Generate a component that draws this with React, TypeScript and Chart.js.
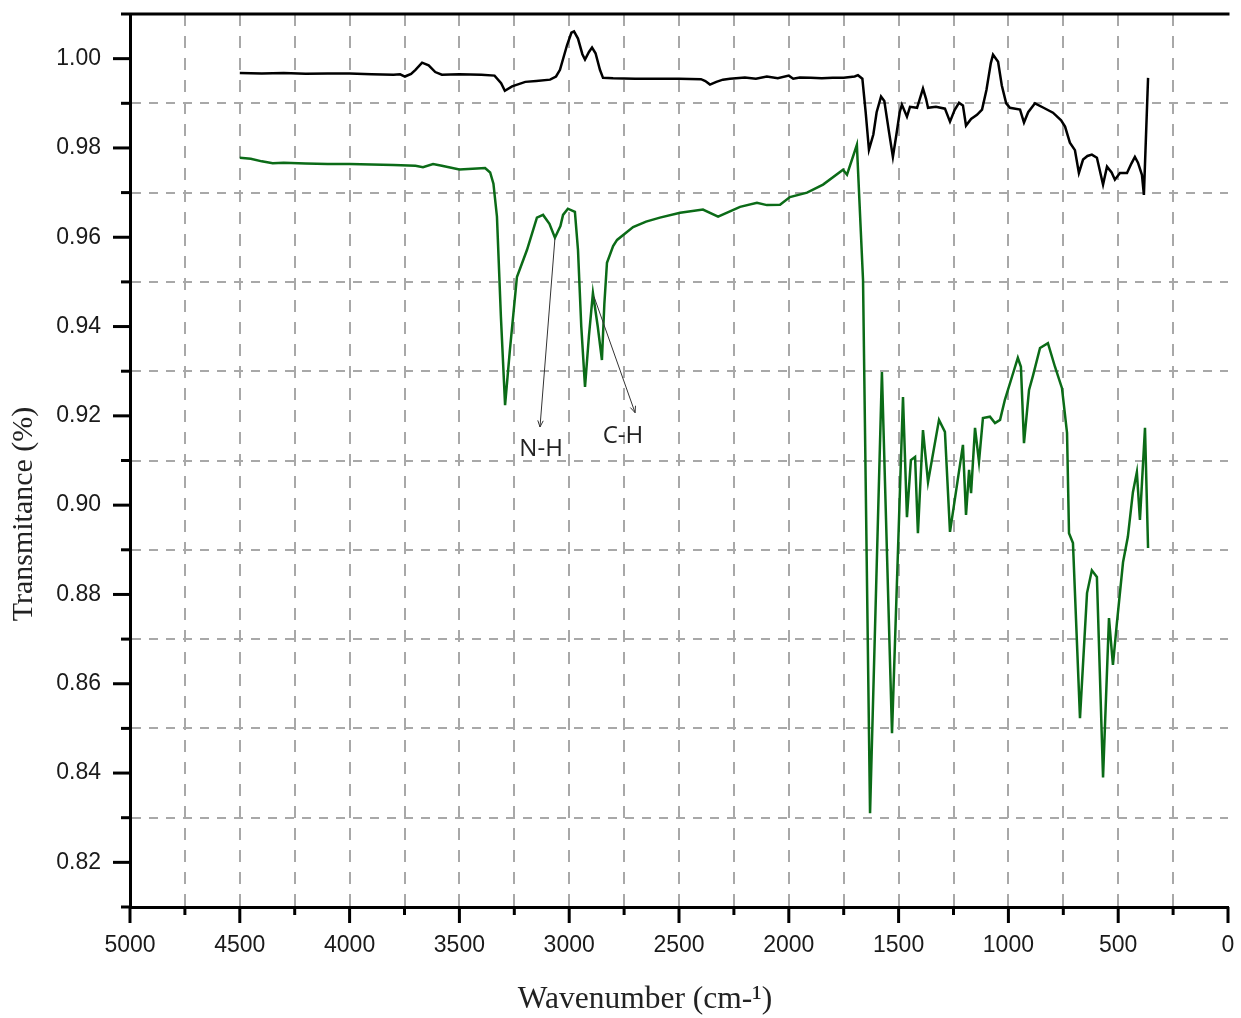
import { useEffect, useRef } from 'react';
import { Chart, registerables } from 'chart.js';

Chart.register(...registerables);

const W = 1241;
const H = 1018;

// Sample 1 (black) wavenumbers (cm-1) and transmittance
const blackWn = [
  4500, 4400, 4300, 4200, 4100, 4000, 3900, 3800, 3770, 3748, 3720, 3700, 3670, 3640, 3610, 3580, 3500, 3400,
  3340, 3310, 3293, 3260, 3200, 3150, 3087, 3060, 3042, 3010, 2990, 2978, 2960, 2940, 2928, 2910, 2896, 2880,
  2860, 2846, 2800, 2700, 2600, 2500, 2400, 2380, 2359, 2330, 2300, 2268, 2200, 2150, 2100, 2050, 2000, 1980,
  1950, 1900, 1850, 1800, 1750, 1700, 1685, 1665, 1650, 1635, 1615, 1600, 1580, 1565, 1545, 1526, 1510, 1495,
  1485, 1462, 1448, 1416, 1389, 1375, 1366, 1330, 1289, 1266, 1245, 1225, 1207, 1193, 1170, 1143, 1120, 1100,
  1080, 1070, 1047, 1030, 1010, 993, 947, 929, 910, 879, 840, 797, 760, 742, 720, 697, 679, 660, 640, 620, 597,
  569, 551, 530, 515, 492, 460, 440, 424, 410, 392, 383, 364,
];
const blackT = [
  0.9968, 0.9967, 0.9968, 0.9966, 0.9967, 0.9967, 0.9965, 0.9964, 0.9965, 0.996, 0.9966, 0.9975, 0.9991, 0.9985,
  0.997, 0.9964, 0.9965, 0.9964, 0.9962, 0.9945, 0.9928, 0.9938, 0.9948, 0.995, 0.9953, 0.996, 0.9975, 1.003,
  1.0058, 1.0061, 1.0045, 1.001, 0.9998, 1.0015, 1.0025, 1.0012, 0.9975, 0.9957, 0.9956, 0.9955, 0.9955, 0.9955,
  0.9954, 0.995, 0.9942, 0.9948, 0.9953, 0.9955, 0.9958, 0.9955, 0.996, 0.9956, 0.9962, 0.9955, 0.9958, 0.9957,
  0.9956, 0.9957, 0.9957, 0.996, 0.9963, 0.9955, 0.988, 0.9796, 0.983, 0.988, 0.9915, 0.9905, 0.984, 0.978,
  0.983, 0.988, 0.9897, 0.987, 0.9892, 0.989, 0.9933, 0.991, 0.989, 0.9892, 0.9888, 0.9859, 0.9885, 0.9901,
  0.9895, 0.985, 0.9865, 0.9874, 0.9886, 0.993, 0.999, 1.0009, 0.9993, 0.994, 0.99, 0.989, 0.9886, 0.9857,
  0.988, 0.99, 0.989, 0.9879, 0.9862, 0.9848, 0.9812, 0.9795, 0.9744, 0.9774, 0.9782, 0.9785, 0.9778, 0.9718,
  0.9758, 0.9745, 0.9729, 0.9744, 0.9744, 0.9765, 0.978, 0.9767, 0.974, 0.9695, 0.9957,
];

// Sample 2 (green) wavenumbers (cm-1) and transmittance
const greenWn = [
  4500, 4450, 4400, 4350, 4300, 4200, 4100, 4000, 3900, 3800, 3700, 3666, 3620, 3580, 3500, 3420, 3383, 3360,
  3345, 3329, 3311, 3292, 3270, 3238, 3192, 3147, 3119, 3090, 3065, 3040, 3028, 3006, 2974, 2960, 2945, 2928,
  2910, 2892, 2870, 2851, 2840, 2828, 2800, 2782, 2709, 2650, 2587, 2495, 2391, 2322, 2222, 2145, 2100, 2040,
  1995, 1917, 1844, 1753, 1735, 1690, 1662, 1630, 1576, 1530, 1480, 1462, 1444, 1425, 1412, 1389, 1366, 1316,
  1289, 1266, 1207, 1193, 1179, 1170, 1152, 1134, 1116, 1084, 1061, 1038, 1016, 984, 957, 943, 929, 906, 888,
  856, 820, 788, 756, 733, 724, 706, 674, 642, 620, 597, 569, 542, 524, 506, 478, 456, 433, 415, 401, 378, 364,
];
const greenT = [
  0.9778, 0.9776, 0.977, 0.9766, 0.9767, 0.9765, 0.9764, 0.9764, 0.9763, 0.9762, 0.976, 0.9757, 0.9764, 0.976,
  0.9752, 0.9754, 0.9755, 0.9745, 0.972, 0.9646, 0.9422, 0.9224, 0.9348, 0.9511, 0.9572, 0.9644, 0.965, 0.963,
  0.9599, 0.9625, 0.965, 0.9664, 0.9657, 0.9572, 0.94, 0.9265, 0.938, 0.9475, 0.94, 0.9325, 0.945, 0.9543,
  0.958, 0.9594, 0.9623, 0.9635, 0.9644, 0.9655, 0.9662, 0.9646, 0.9668, 0.9677, 0.9672, 0.9673, 0.969, 0.97,
  0.9718, 0.9751, 0.974, 0.9807, 0.9505, 0.831, 0.9298, 0.8489, 0.9242, 0.8973, 0.9101, 0.9108, 0.8937,
  0.9168, 0.9052, 0.9191, 0.9164, 0.894, 0.9135, 0.8978, 0.9079, 0.9027, 0.9173, 0.9097, 0.9195, 0.9198,
  0.9184, 0.9191, 0.9236, 0.9287, 0.933, 0.931, 0.9139, 0.9258, 0.929, 0.9352, 0.9363, 0.931, 0.9262, 0.9162,
  0.8937, 0.8915, 0.8523, 0.8803, 0.8854, 0.8839, 0.839, 0.8747, 0.8642, 0.8736, 0.8872, 0.8929, 0.9029,
  0.9074, 0.8967, 0.9173, 0.8904,
];

// Axis ranges and tick steps
const xMin = 0;
const xMax = 5000;
const xStep = 250;
const xLabelStep = 500;
const yMin = 0.81;
const yMax = 1.01;
const yStep = 0.01;

const xTitle = 'Wavenumber (cm-¹)';
const yTitle = 'Transmitance (%)';

// Peak annotations: arrow from -> to, label centre (data coordinates)
const annotations = [
  { text: 'N-H', from: [3065, 0.9597], to: [3133, 0.9175], label: [3128, 0.9126] },
  { text: 'C-H', from: [2887, 0.9467], to: [2700, 0.9207], label: [2755, 0.9155] },
];

const decorPlugin = {
  id: 'decor',
  afterDraw(chart: any) {
    const { ctx, chartArea: ca, scales } = chart;
    const x = scales.x;
    const y = scales.y;
    ctx.save();
    ctx.strokeStyle = '#000';
    ctx.lineWidth = 3;
    ctx.lineCap = 'butt';
    const line = (x1: number, y1: number, x2: number, y2: number) => {
      ctx.beginPath();
      ctx.moveTo(x1, y1);
      ctx.lineTo(x2, y2);
      ctx.stroke();
    };
    // top frame line
    line(ca.left, ca.top, ca.right + 1.5, ca.top);
    // y ticks
    const n = Math.round((yMax - yMin) / yStep);
    for (let i = 0; i <= n; i++) {
      const k = Math.round(yMin * 100) + i;
      const py = y.getPixelForValue(k / 100);
      const len = k % 2 === 0 ? 17 : 9;
      line(ca.left - len, py, ca.left, py);
    }
    // x ticks
    for (let v = xMin; v <= xMax; v += xStep) {
      const px = x.getPixelForValue(v);
      const len = v % xLabelStep === 0 ? 16 : 8;
      line(px, ca.bottom, px, ca.bottom + len);
    }

    // annotations
    ctx.strokeStyle = '#333';
    ctx.fillStyle = '#222';
    ctx.lineWidth = 1;
    for (const a of annotations) {
      const x1 = x.getPixelForValue(a.from[0]);
      const y1 = y.getPixelForValue(a.from[1]);
      const x2 = x.getPixelForValue(a.to[0]);
      const y2 = y.getPixelForValue(a.to[1]);
      line(x1, y1, x2, y2);
      const ang = Math.atan2(y2 - y1, x2 - x1);
      const hl = 7;
      ctx.beginPath();
      ctx.moveTo(x2 - hl * Math.cos(ang - 0.4), y2 - hl * Math.sin(ang - 0.4));
      ctx.lineTo(x2, y2);
      ctx.lineTo(x2 - hl * Math.cos(ang + 0.4), y2 - hl * Math.sin(ang + 0.4));
      ctx.stroke();
      ctx.font = '24px "Open Sans", "Liberation Sans", sans-serif';
      ctx.textAlign = 'center';
      ctx.textBaseline = 'middle';
      ctx.fillText(a.text, x.getPixelForValue(a.label[0]), y.getPixelForValue(a.label[1]));
    }

    // axis titles
    ctx.fillStyle = '#222';
    ctx.textAlign = 'center';
    ctx.textBaseline = 'middle';
    ctx.font = '31.5px "Liberation Serif", "DejaVu Serif", serif';
    ctx.fillText(xTitle, 645, 1000);
    ctx.font = '30px "Liberation Serif", "DejaVu Serif", serif';
    ctx.save();
    ctx.translate(24, 514);
    ctx.rotate(-Math.PI / 2);
    ctx.fillText(yTitle, 0, 0);
    ctx.restore();
    ctx.restore();
  },
};

export default function App() {
  const ref = useRef<HTMLCanvasElement | null>(null);
  useEffect(() => {
    if (!ref.current) return;
    const tickFont = { family: '"Liberation Sans", Arial, sans-serif', size: 23 };
    const chart = new Chart(ref.current, {
      type: 'line',
      data: {
        datasets: [
          {
            data: blackWn.map((w, i) => ({ x: w, y: blackT[i] })),
            borderColor: '#000000',
            borderWidth: 2.5,
            pointRadius: 0,
            tension: 0,
          },
          {
            data: greenWn.map((w, i) => ({ x: w, y: greenT[i] })),
            borderColor: '#0b6b17',
            borderWidth: 2.5,
            pointRadius: 0,
            tension: 0,
          },
        ],
      },
      options: {
        animation: false,
        responsive: false,
        layout: { padding: { left: 0, right: 13, top: 14, bottom: 0 } },
        plugins: { legend: { display: false }, tooltip: { enabled: false } },
        scales: {
          x: {
            type: 'linear',
            reverse: true,
            min: xMin,
            max: xMax,
            afterFit: (s: any) => {
              s.height = 111;
              s.paddingLeft = 0;
              s.paddingRight = 0;
              s.paddingTop = 0;
              s.paddingBottom = 0;
            },
            ticks: {
              stepSize: xStep,
              autoSkip: false,
              maxRotation: 0,
              minRotation: 0,
              padding: 25,
              color: '#1a1a1a',
              font: tickFont,
              callback: (v: any) => (Number(v) % xLabelStep === 0 ? String(v) : ''),
            },
            grid: {
              drawTicks: false,
              lineWidth: 2,
              color: (c: any) => {
                const v = c.tick ? c.tick.value : 0;
                return v > xMin && v < xMax ? '#a8a8a8' : 'rgba(0,0,0,0)';
              },
            },
            border: { display: true, width: 3, color: '#000', dash: [12, 10] },
          },
          y: {
            type: 'linear',
            min: yMin,
            max: yMax,
            afterFit: (s: any) => {
              s.width = 130;
              s.paddingLeft = 0;
              s.paddingRight = 0;
              s.paddingTop = 0;
              s.paddingBottom = 0;
            },
            ticks: {
              stepSize: yStep,
              autoSkip: false,
              padding: 29,
              color: '#1a1a1a',
              font: tickFont,
              callback: (v: any) => (Math.round(Number(v) * 100) % 2 === 0 ? Number(v).toFixed(2) : ''),
            },
            grid: {
              drawTicks: false,
              lineWidth: 2,
              color: (c: any) => {
                const k = c.tick ? Math.round(c.tick.value * 100) : 0;
                return k % 2 === 1 && k > Math.round(yMin * 100) && k < Math.round(yMax * 100)
                  ? '#a8a8a8'
                  : 'rgba(0,0,0,0)';
              },
            },
            border: { display: true, width: 3, color: '#000', dash: [9, 8] },
          },
        },
      },
      plugins: [decorPlugin],
    } as any);
    return () => chart.destroy();
  }, []);
  return (
    <div style={{ position: 'absolute', left: 0, top: 0, width: W, height: H, background: '#fff' }}>
      <canvas ref={ref} width={W} height={H} style={{ display: 'block' }} />
    </div>
  );
}
